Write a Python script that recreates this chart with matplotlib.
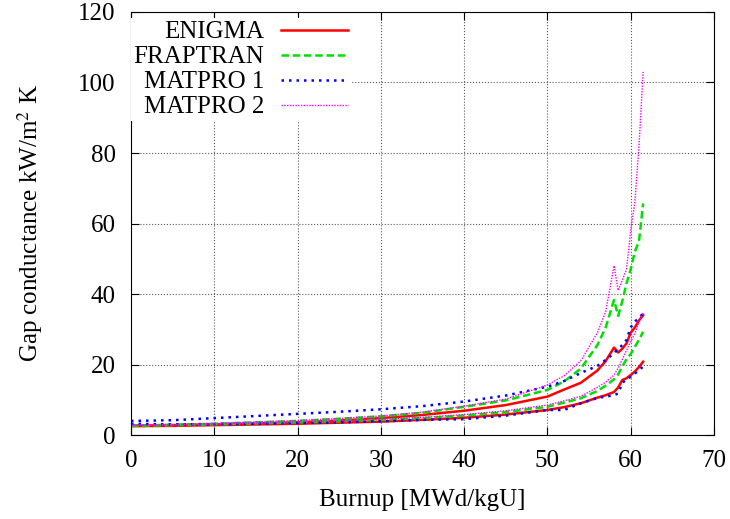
import matplotlib
matplotlib.use("Agg")
import matplotlib.pyplot as plt

# ----- Data -----
burnup = [0, 5, 10, 15, 20, 25, 30, 35, 40, 45, 50, 52, 54, 56, 57, 58, 58.5,
          59, 59.5, 60, 60.5, 61, 61.5]

# upper branch of each model
enigma_hi = [2.6, 2.8, 3.0, 3.3, 3.6, 4.1, 4.8, 5.7, 6.9, 8.5, 10.9, 12.9, 14.8,
             18.3, 21.0, 24.8, 23.4, 24.5, 26.0, 29.0, 30.5, 32.5, 34.0]
fraptran_hi = [2.7, 2.9, 3.2, 3.6, 4.0, 4.6, 5.3, 6.3, 8.0, 9.8, 12.8, 15.2, 18.8,
               25.5, 30.5, 38.3, 33.8, 38.0, 43.0, 47.0, 52.0, 55.0, 65.7]
matpro1_hi = [4.0, 4.2, 4.8, 5.4, 6.0, 6.6, 7.3, 8.2, 9.5, 11.2, 13.7, 15.3, 17.6,
              19.6, 21.3, 23.2, 24.5, 25.5, 27.0, 30.5, 32.2, 33.2, 34.5]
matpro2_hi = [2.8, 3.0, 3.3, 3.7, 4.1, 4.7, 5.4, 6.5, 8.2, 10.2, 14.2, 16.8, 21.0,
              29.0, 35.0, 48.0, 41.0, 44.0, 47.0, 58.0, 66.0, 82.0, 103.0]

# lower branch of each model
enigma_lo = [2.5, 2.6, 2.8, 3.0, 3.2, 3.5, 3.8, 4.3, 4.9, 5.8, 7.1, 7.9, 9.0,
             10.6, 11.3, 12.2, 13.5, 15.6, 16.1, 17.0, 18.0, 19.3, 20.8]
fraptran_lo = [2.7, 2.8, 3.0, 3.3, 3.6, 3.9, 4.3, 4.8, 5.5, 6.5, 8.0, 9.2, 10.4,
               12.5, 14.0, 15.8, 17.2, 19.5, 21.5, 23.0, 25.0, 27.0, 29.3]
matpro1_lo = [3.2, 3.0, 3.1, 3.2, 3.4, 3.6, 3.9, 4.3, 4.5, 5.5, 7.1, 7.1, 9.0,
              10.5, 10.9, 11.3, 11.8, 14.8, 15.8, 16.5, 17.4, 18.5, 19.4]
matpro2_lo = [2.8, 2.9, 3.1, 3.4, 3.7, 4.0, 4.5, 5.0, 5.8, 6.9, 8.5, 9.7, 11.0,
              13.5, 15.0, 17.0, 19.0, 21.5, 24.0, 26.5, 28.8, 32.0, 35.0]

labels = ["ENIGMA", "FRAPTRAN", "MATPRO 1", "MATPRO 2"]

# ----- Plot -----
plt.rcParams['font.family'] = 'Liberation Serif'
plt.rcParams['mathtext.fontset'] = 'stix'
plt.rcParams['font.size'] = 18

fig = plt.figure(figsize=(7.3, 5.19), dpi=100)
ax = fig.add_axes([0.1795, 0.1618, 0.7985, 0.8151])

styles = [
    dict(color='#ff0000', lw=1.8, ls='-'),
    dict(color='#00e000', lw=1.8, ls=(0, (3, 1.5))),
    dict(color='#0000ff', lw=1.8, ls=(0, (1, 2))),
    dict(color='#ff00ff', lw=1.0, ls=(0, (1, 1))),
]
his = [enigma_hi, fraptran_hi, matpro1_hi, matpro2_hi]
los = [enigma_lo, fraptran_lo, matpro1_lo, matpro2_lo]

for lab, st, hi, lo in zip(labels, styles, his, los):
    ax.plot(burnup, hi, label=lab, **st)
    ax.plot(burnup, lo, **st)

ax.set_xlim(0, 70)
ax.set_ylim(0, 120)
ax.set_xticks(range(0, 71, 10))
ax.set_yticks(range(0, 121, 20))
ax.tick_params(direction='in', top=True, right=True, length=6, pad=11)
ax.grid(True, color='0.35', ls=':', lw=0.8)
ax.set_axisbelow(True)

ax.set_xlabel("Burnup [MWd/kgU]", labelpad=12)
ax.set_ylabel(r"Gap conductance kW/m$^2$ K", labelpad=24)

leg = ax.legend(loc='upper left', bbox_to_anchor=(0.0, 0.985), markerfirst=False,
                frameon=True, facecolor='white', edgecolor='none', framealpha=1,
                fancybox=False, handlelength=2.7, handletextpad=0.65,
                labelspacing=0.1, borderpad=0.1, borderaxespad=0.0, fontsize=18)

fig.savefig("out.png", dpi=100)
